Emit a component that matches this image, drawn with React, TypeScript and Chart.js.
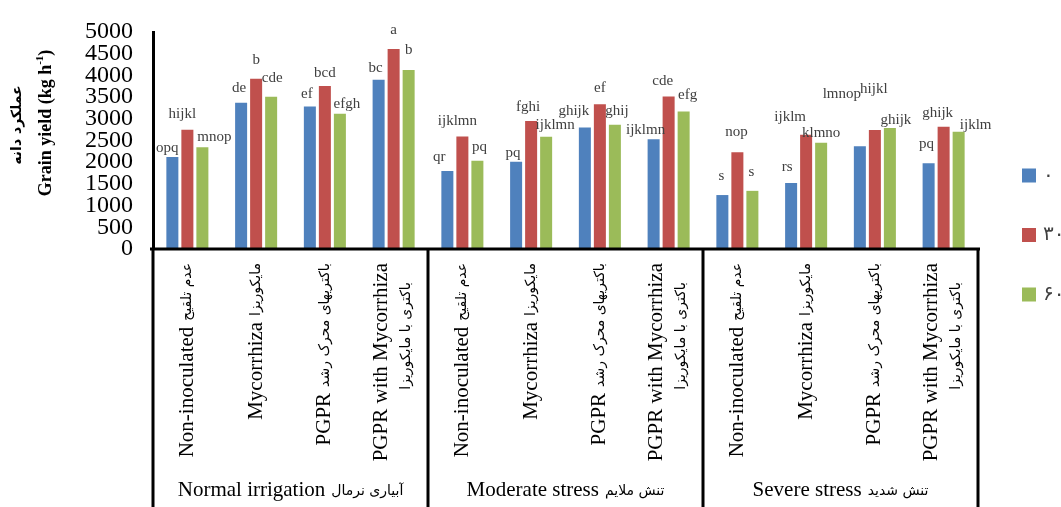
import React, { useEffect, useRef } from "react";
import { Chart, registerables } from "chart.js";

Chart.register(...registerables);

// ---------- data ----------
const treatmentsEn = ["Non-inoculated", "Mycorrhiza", "PGPR", "PGPR with Mycorrhiza"];
const treatmentsFa = ["عدم تلقیح", "مایکوریزا", "باکتریهای محرک رشد", "باکتری با مایکوریزا"];
const groupsEn = ["Normal irrigation", "Moderate stress", "Severe stress"];
const groupsFa = ["آبیاری نرمال", "تنش ملایم", "تنش شدید"];
const seriesNames = ["۰", "۳۰", "۶۰"];
const seriesColors = ["#4F81BD", "#C0504D", "#9BBB59"];

const yield0 = [2120, 3367, 3285, 3902, 1800, 2009, 2802, 2528, 1243, 1518, 2365, 1978];
const yield30 = [2750, 3924, 3753, 4606, 2595, 2951, 3337, 3515, 2231, 2632, 2743, 2817];
const yield60 = [2343, 3508, 3114, 4125, 2031, 2588, 2862, 3167, 1340, 2446, 2788, 2699];

const letters0 = ["opq", "de", "ef", "bc", "qr", "pq", "ghijk", "ijklmn", "s", "rs", "lmnop", "pq"];
const letters30 = ["hijkl", "b", "bcd", "a", "ijklmn", "fghi", "ef", "cde", "nop", "ijklm", "hijkl", "ghijk"];
const letters60 = ["mnop", "cde", "efgh", "b", "pq", "ijklmn", "ghij", "efg", "s", "klmno", "ghijk", "ijklm"];

const yTicks = { min: 0, max: 5000, step: 500 };

// label nudges (dx, dy) relative to the top-centre of each bar
const nudge0 = [[-5, -9], [-2, -15], [-3, -12], [-3, -12], [-8, -14], [-3, -9], [-11, -16], [-8, -9], [-1, -19], [-4, -16], [-18, -52], [-2, -19]];
const nudge30 = [[-5, -16], [0, -19], [0, -13], [0, -19], [-5, -15], [-3, -14], [0, -16], [-6, -15], [-1, -20], [-16, -18], [-1, -41], [-6, -14]];
const nudge60 = [[12, -10], [1, -19], [7, -10], [0, -20], [2, -14], [9, -12], [2, -14], [4, -16], [-1, -19], [0, -10], [6, -8], [17, -7]];

const categoryKeys = groupsEn.flatMap((g) => treatmentsEn.map((t) => `${g} - ${t}`));
const seriesValues = [yield0, yield30, yield60];
const seriesLetters = [letters0, letters30, letters60];
const seriesNudges = [nudge0, nudge30, nudge60];

const SERIF = "'Liberation Serif', 'Times New Roman', serif";
const FA = "'DejaVu Sans', sans-serif";

const decor = {
  id: "decor",
  afterDatasetsDraw(chart: any) {
    const ctx = chart.ctx;
    ctx.save();
    ctx.font = `15px ${SERIF}`;
    ctx.fillStyle = "#404040";
    ctx.textAlign = "center";
    ctx.textBaseline = "middle";
    chart.data.datasets.forEach((_ds: any, d: number) => {
      const meta = chart.getDatasetMeta(d);
      meta.data.forEach((bar: any, i: number) => {
        const [dx, dy] = seriesNudges[d][i];
        ctx.fillText(seriesLetters[d][i], bar.x + dx, bar.y + dy);
      });
    });
    ctx.restore();
  },
  afterDraw(chart: any) {
    const ctx = chart.ctx;
    const area = chart.chartArea;
    const xs = chart.scales.x;
    const H = chart.height;
    ctx.save();

    // box lines of the two-level axis
    ctx.strokeStyle = "#000";
    ctx.lineWidth = 3;
    const bounds = [0, 1, 2, 3].map((g) => xs.getPixelForValue(g * 4 - 0.5));
    ctx.beginPath();
    ctx.moveTo(bounds[0] - 3, area.bottom);
    ctx.lineTo(bounds[3] + 2, area.bottom);
    bounds.forEach((bx) => {
      ctx.moveTo(bx, area.bottom);
      ctx.lineTo(bx, H);
    });
    ctx.stroke();

    // category labels (rotated)
    ctx.fillStyle = "#000";
    ctx.textBaseline = "middle";
    ctx.textAlign = "right";
    categoryKeys.forEach((_k, i) => {
      const t = i % 4;
      const cx = xs.getPixelForValue(i);
      const top = area.bottom + 14;
      ctx.save();
      ctx.translate(cx, top);
      ctx.rotate(-Math.PI / 2);
      if (t < 3) {
        ctx.font = `14px ${FA}`;
        const pw = ctx.measureText(treatmentsFa[t]).width;
        ctx.fillText(treatmentsFa[t], 0, 0);
        ctx.font = `21px ${SERIF}`;
        ctx.fillText(treatmentsEn[t], -(pw + 6), 0);
      } else {
        ctx.font = `21px ${SERIF}`;
        ctx.fillText(treatmentsEn[t], 0, -12);
        ctx.font = `14px ${FA}`;
        ctx.fillText(treatmentsFa[t], -19, 13);
      }
      ctx.restore();
    });

    // group labels
    ctx.textAlign = "left";
    groupsEn.forEach((g, gi) => {
      const cx = xs.getPixelForValue(gi * 4 + 1.5);
      const y = area.bottom + 241;
      ctx.font = `21px ${SERIF}`;
      const ew = ctx.measureText(g).width;
      ctx.font = `14px ${FA}`;
      const pw = ctx.measureText(groupsFa[gi]).width;
      const total = ew + 6 + pw;
      const x0 = cx - total / 2;
      ctx.font = `21px ${SERIF}`;
      ctx.fillText(g, x0, y);
      ctx.font = `14px ${FA}`;
      ctx.fillText(groupsFa[gi], x0 + ew + 6, y + 1);
    });

    // y-axis title (two lines)
    const ty = area.top + 91;
    ctx.save();
    ctx.translate(46, ty);
    ctx.rotate(-Math.PI / 2);
    const main = "Grain yield (kg h";
    const sup = "-1";
    const end = ")";
    ctx.font = `bold 18px ${SERIF}`;
    const w1 = ctx.measureText(main).width;
    const w3 = ctx.measureText(end).width;
    ctx.font = `bold 11px ${SERIF}`;
    const w2 = ctx.measureText(sup).width;
    let u = -(w1 + w2 + w3) / 2;
    ctx.textAlign = "left";
    ctx.font = `bold 18px ${SERIF}`;
    ctx.fillText(main, u, 0);
    u += w1;
    ctx.font = `bold 11px ${SERIF}`;
    ctx.fillText(sup, u, -6);
    u += w2;
    ctx.font = `bold 18px ${SERIF}`;
    ctx.fillText(end, u, 0);
    ctx.restore();

    ctx.save();
    ctx.translate(17, ty + 2);
    ctx.rotate(-Math.PI / 2);
    ctx.textAlign = "center";
    ctx.font = `bold 14px ${FA}`;
    ctx.fillText("عملکرد دانه", 0, 0);
    ctx.restore();

    // legend
    const lx = area.right + 44;
    const lyMid = area.bottom - 14;
    seriesNames.forEach((name, s) => {
      const cy = lyMid + (s - 1) * 59.5;
      ctx.fillStyle = seriesColors[s];
      ctx.fillRect(lx, cy - 7, 14, 14);
      ctx.fillStyle = "#404040";
      ctx.font = `20px ${FA}`;
      ctx.textAlign = "left";
      ctx.textBaseline = "middle";
      ctx.fillText(name, lx + 21, cy);
    });

    ctx.restore();
  },
};

export default function App() {
  const ref = useRef<HTMLCanvasElement>(null);

  useEffect(() => {
    if (!ref.current) return;
    const chart = new Chart(ref.current, {
      type: "bar",
      data: {
        labels: categoryKeys,
        datasets: seriesNames.map((name, s) => ({
          label: name,
          data: seriesValues[s],
          backgroundColor: seriesColors[s],
          borderWidth: 0,
          categoryPercentage: 0.655,
          barPercentage: 0.8,
        })),
      },
      options: {
        responsive: false,
        animation: false,
        devicePixelRatio: 1,
        layout: { padding: { left: 65, right: 83, top: 24, bottom: 258 } },
        plugins: {
          legend: { display: false },
          tooltip: { enabled: false },
          title: { display: false },
        },
        scales: {
          x: { display: false },
          y: {
            min: yTicks.min,
            max: yTicks.max,
            grid: { display: false, drawTicks: false },
            border: { display: true, color: "#000", width: 3 },
            ticks: {
              stepSize: yTicks.step,
              autoSkip: false,
              padding: 20,
              color: "#000",
              font: { family: SERIF, size: 24, lineHeight: 1 },
              callback: (v: any) => String(v),
            },
          },
        },
      },
      plugins: [decor],
    });
    return () => chart.destroy();
  }, []);

  return (
    <div style={{ position: "absolute", left: 0, top: 0, width: 1061, height: 507, overflow: "hidden", background: "#fff" }}>
      <canvas ref={ref} width={1061} height={507} style={{ width: 1061, height: 507, display: "block" }} />
    </div>
  );
}
